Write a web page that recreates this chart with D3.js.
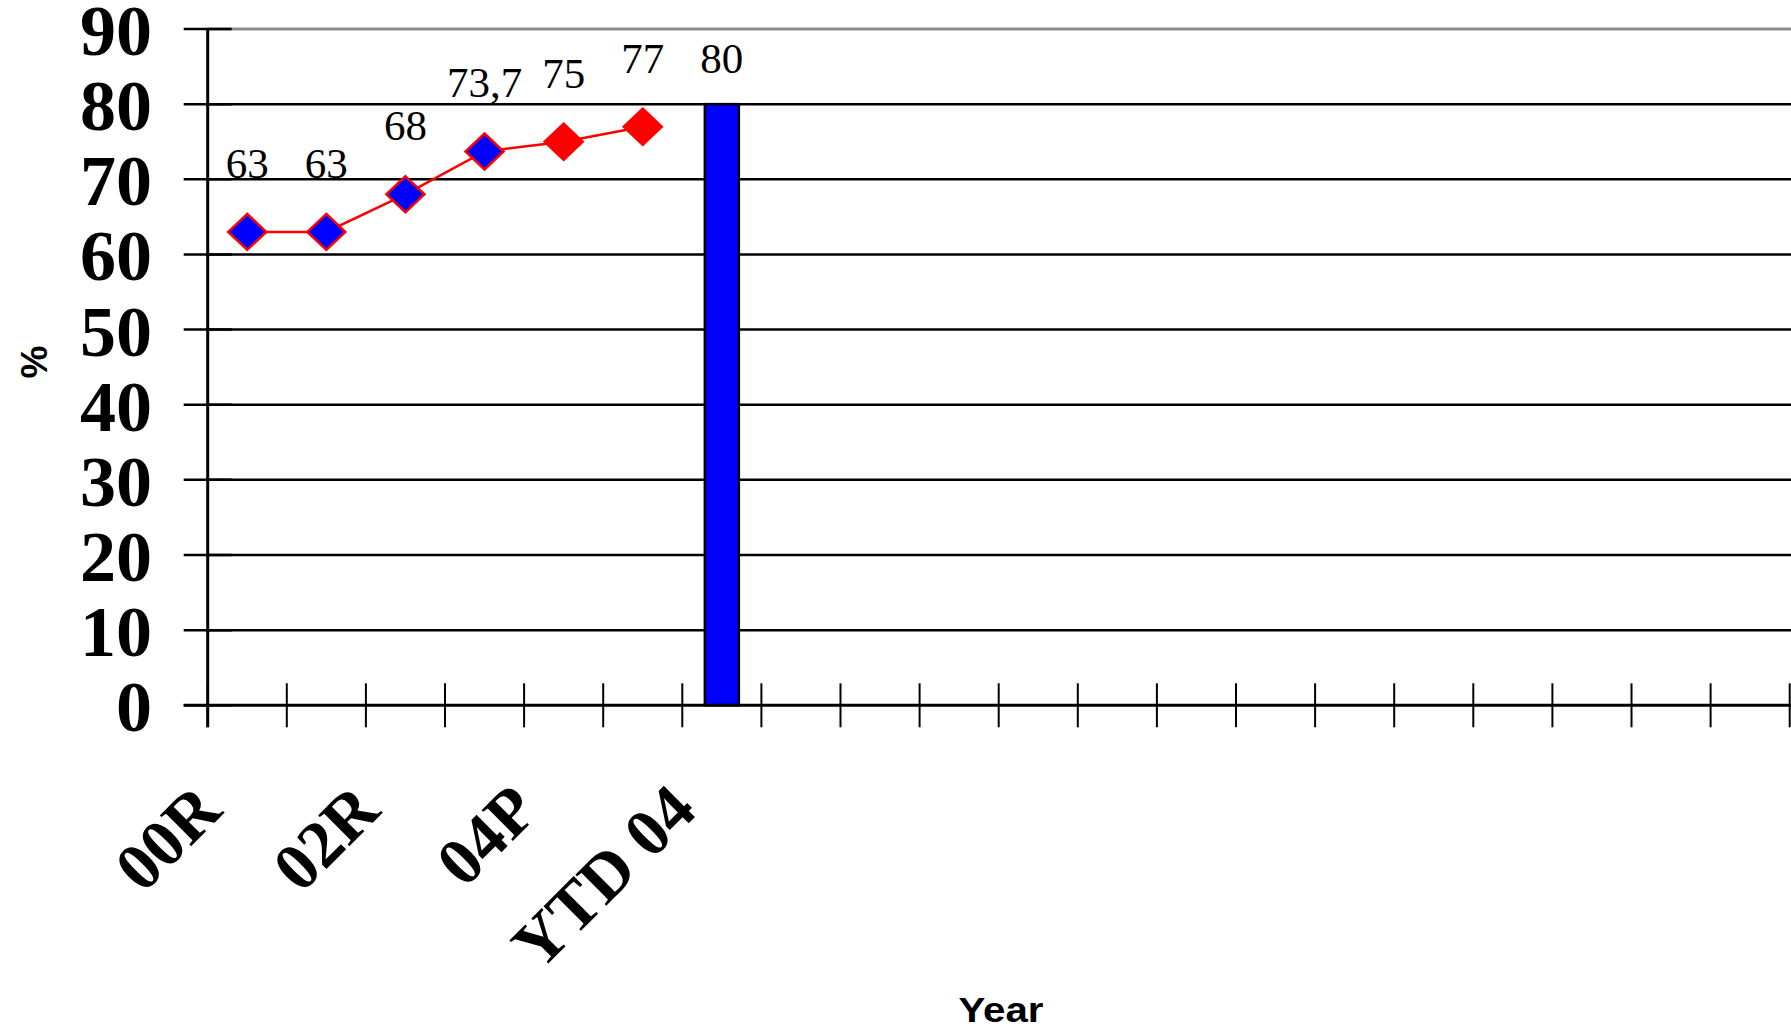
<!DOCTYPE html>
<html>
<head>
<meta charset="utf-8">
<script src="https://cdn.jsdelivr.net/npm/d3@7/dist/d3.min.js"></script>
<style>
  html, body { margin: 0; padding: 0; background: #ffffff; }
  svg { display: block; }
</style>
</head>
<body>
<svg id="chart" width="1791" height="1028"></svg>
<script>
// Category axis: 20 slots, of which the first seven carry years.
const categories = ["00R", "01R", "02R", "03R", "04P", "05P", "YTD 04"];
const slotCount = 20;

// Rate per year (line) – "R" = recorded, "P" = projected
const lineValues = [63, 63, 68, 73.7, 75, 77];

// Year-to-date column
const barCategory = "YTD 04";
const barValue = 80;

// Value axis ticks
const yTicks = [0, 10, 20, 30, 40, 50, 60, 70, 80, 90];

const yTitle = "%";
const xTitle = "Year";

(function draw() {
  const svg = d3.select("#chart");
  const W = 1791, H = 1028;
  svg.append("rect").attr("width", W).attr("height", H).attr("fill", "#ffffff");

  const plotLeft = 207.7, plotRight = 1789.7, plotTop = 29, plotBottom = 705.3;

  const x = d3.scaleBand().domain(d3.range(slotCount)).range([plotLeft, plotRight]).paddingInner(0).paddingOuter(0);
  const y = d3.scaleLinear().domain([0, 90]).range([plotBottom, plotTop]);
  const cx = i => x(i) + x.bandwidth() / 2;

  const commaLocale = d3.formatLocale({ decimal: ",", thousands: ".", grouping: [3], currency: ["", ""] });
  const fmt = v => commaLocale.format("~g")(v);

  const serif = "'Liberation Serif', 'Times New Roman', serif";
  const sans = "'Liberation Sans', Arial, sans-serif";

  // Horizontal gridlines
  svg.append("g").selectAll("line")
    .data(yTicks.filter(v => v > 0 && v < 90))
    .join("line")
    .attr("x1", plotLeft).attr("x2", W)
    .attr("y1", d => y(d)).attr("y2", d => y(d))
    .attr("stroke", "#000").attr("stroke-width", 2.5);

  // Plot area top border
  svg.append("line")
    .attr("x1", plotLeft).attr("x2", W)
    .attr("y1", y(90)).attr("y2", y(90))
    .attr("stroke", "#8c8c8c").attr("stroke-width", 3);

  // Year-to-date column
  const barIndex = categories.indexOf(barCategory);
  const barW = x.bandwidth() * 0.43;
  svg.append("rect")
    .attr("x", cx(barIndex) - barW / 2)
    .attr("y", y(barValue))
    .attr("width", barW)
    .attr("height", y(0) - y(barValue))
    .attr("fill", "#0000ff")
    .attr("stroke", "#000").attr("stroke-width", 2.5);

  // Value axis (crossing tick marks)
  svg.append("g").selectAll("line")
    .data(yTicks)
    .join("line")
    .attr("x1", plotLeft - 24).attr("x2", plotLeft + 24)
    .attr("y1", d => y(d)).attr("y2", d => y(d))
    .attr("stroke", "#000").attr("stroke-width", 2.5);
  svg.append("line")
    .attr("x1", plotLeft).attr("x2", plotLeft)
    .attr("y1", y(90)).attr("y2", y(0) + 22)
    .attr("stroke", "#000").attr("stroke-width", 3);

  svg.append("g").selectAll("text")
    .data(yTicks)
    .join("text")
    .attr("x", 152)
    .attr("y", d => y(d) + 26)
    .attr("text-anchor", "end")
    .attr("font-family", serif)
    .attr("font-weight", "bold")
    .attr("font-size", 72)
    .text(d => d);

  // Category axis
  svg.append("line")
    .attr("x1", plotLeft - 24).attr("x2", W)
    .attr("y1", y(0)).attr("y2", y(0))
    .attr("stroke", "#000").attr("stroke-width", 3);
  svg.append("g").selectAll("line")
    .data(d3.range(slotCount + 1))
    .join("line")
    .attr("x1", i => plotLeft + i * x.bandwidth()).attr("x2", i => plotLeft + i * x.bandwidth())
    .attr("y1", y(0) - 22).attr("y2", y(0) + 22)
    .attr("stroke", "#000").attr("stroke-width", 2);

  svg.append("g").selectAll("text")
    .data(categories.map((c, i) => ({ c, i })).filter(d => d.i % 2 === 0))
    .join("text")
    .attr("transform", d => `translate(${cx(d.i) - 23},${813}) rotate(-45)`)
    .attr("text-anchor", "end")
    .attr("font-family", serif)
    .attr("font-weight", "bold")
    .attr("font-size", 67)
    .text(d => d.c);

  // Rate line
  const pts = lineValues.map((v, i) => ({ v, i, projected: categories[i].endsWith("P") }));
  svg.append("path")
    .datum(pts)
    .attr("d", d3.line().x(d => cx(d.i)).y(d => y(d.v)))
    .attr("fill", "none")
    .attr("stroke", "#ff0000").attr("stroke-width", 2.5);

  const diamond = (hw, hh) => `M0,${-hh}L${hw},0L0,${hh}L${-hw},0Z`;
  svg.append("g").selectAll("path")
    .data(pts)
    .join("path")
    .attr("transform", d => `translate(${cx(d.i)},${y(d.v)})`)
    .attr("d", diamond(19, 18))
    .attr("fill", d => d.projected ? "#ff0000" : "#0000ff")
    .attr("stroke", "#ff0000").attr("stroke-width", 2.5)
    .attr("stroke-linejoin", "miter");

  // Value labels
  svg.append("g").selectAll("text")
    .data(pts)
    .join("text")
    .attr("x", d => cx(d.i))
    .attr("y", d => y(d.v) - 54)
    .attr("text-anchor", "middle")
    .attr("font-family", serif)
    .attr("font-size", 43)
    .text(d => fmt(d.v));

  svg.append("text")
    .attr("x", cx(barIndex))
    .attr("y", y(barValue) - 31)
    .attr("text-anchor", "middle")
    .attr("font-family", serif)
    .attr("font-size", 43)
    .text(fmt(barValue));

  // Axis titles
  svg.append("text")
    .attr("transform", "translate(47,362) rotate(-90)")
    .attr("text-anchor", "middle")
    .attr("font-family", sans)
    .attr("font-weight", "bold")
    .attr("font-size", 37)
    .text(yTitle);

  svg.append("text")
    .attr("transform", "translate(1001,1022) scale(1.15,1)")
    .attr("text-anchor", "middle")
    .attr("font-family", sans)
    .attr("font-weight", "bold")
    .attr("font-size", 35)
    .text(xTitle);
})();
</script>
</body>
</html>
